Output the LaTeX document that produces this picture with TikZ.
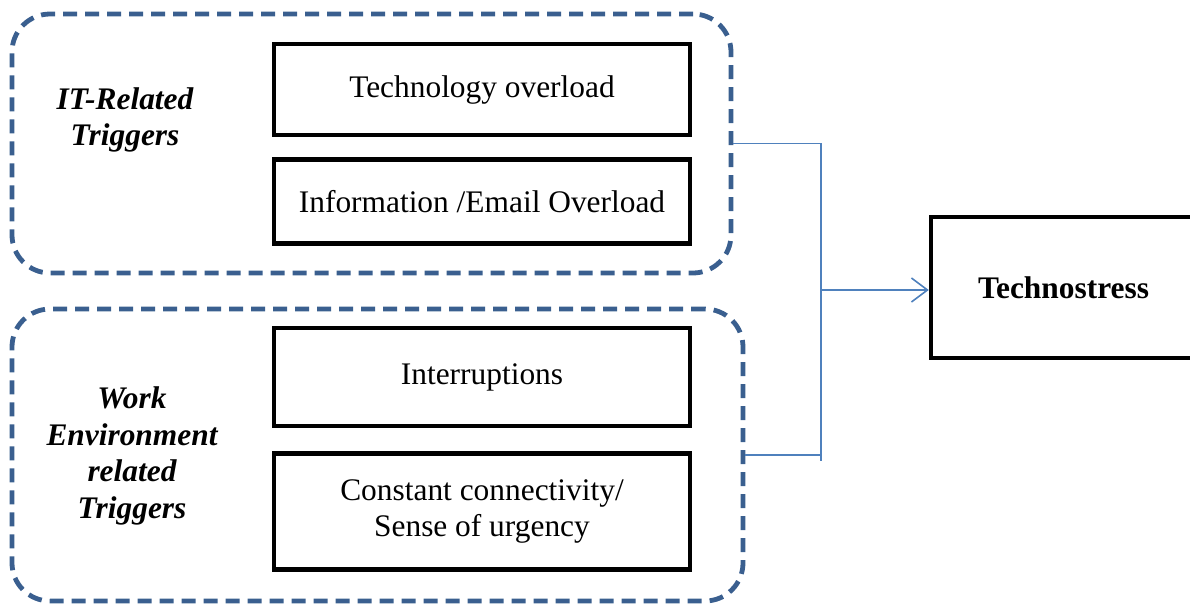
\documentclass[tikz,border=0pt]{standalone}
\usepackage{fontspec}
\setmainfont{Liberation Serif}
\usetikzlibrary{arrows.meta, positioning}
\definecolor{grpblue}{RGB}{58,95,143}
\definecolor{linkblue}{RGB}{79,129,189}

\begin{document}
\begin{tikzpicture}[x=0.5pt, y=-0.5pt, >={Straight Barb[length=8pt, width=12pt]},
  font=\fontsize{15.7}{18.3}\selectfont,
  group/.style={draw=grpblue, line width=2.4pt, dash pattern=on 7pt off 4pt, rounded corners=19pt, inner sep=0pt},
  factor/.style={draw, line width=2.2pt, minimum width=208pt, align=center, inner sep=0pt},
  trig/.style={align=center, font=\fontsize{15.7}{18.3}\selectfont\bfseries\itshape},
  link/.style={draw=linkblue, line width=0.8pt}]
\useasboundingbox (0,0) rectangle (1190,606);
% dashed groups
\node[group, minimum width=359.5pt, minimum height=129.5pt] (grpIT) at (371.5,143.5) {};
\node[group, minimum width=365.5pt, minimum height=146pt] (grpWork) at (377.5,455) {};
\node[trig] (lblIT) at (125,120) {IT-Related\\Triggers};
\node[trig] (lblWork) at (132,456) {Work\\Environment\\related\\Triggers};
% triggers
\node[factor, minimum height=45.5pt] (techOver) at (482,89.5) {Technology overload};
\node[factor, minimum height=42pt] (infoOver) [below=10pt of techOver] {Information /Email Overload};
\node[factor, minimum height=49pt] (interrupt) at (482,377) {Interruptions};
\node[factor, minimum height=58pt] (connect) [below=11.5pt of interrupt] {Constant connectivity/\\Sense of urgency};
\node[factor, minimum width=132.5pt, minimum height=70.5pt, font=\fontsize{15.7}{18.3}\selectfont\bfseries] (stress) at (1063.5,287.5) {Technostress};
% connectors
\coordinate (join) at (821,290);
\draw[link] (grpIT.east) -| (join) |- (grpWork.east);
\draw[link] (join) -- ++(0,171);
\draw[link, ->] (join) -- (join -| stress.west);
\end{tikzpicture}
\end{document}
